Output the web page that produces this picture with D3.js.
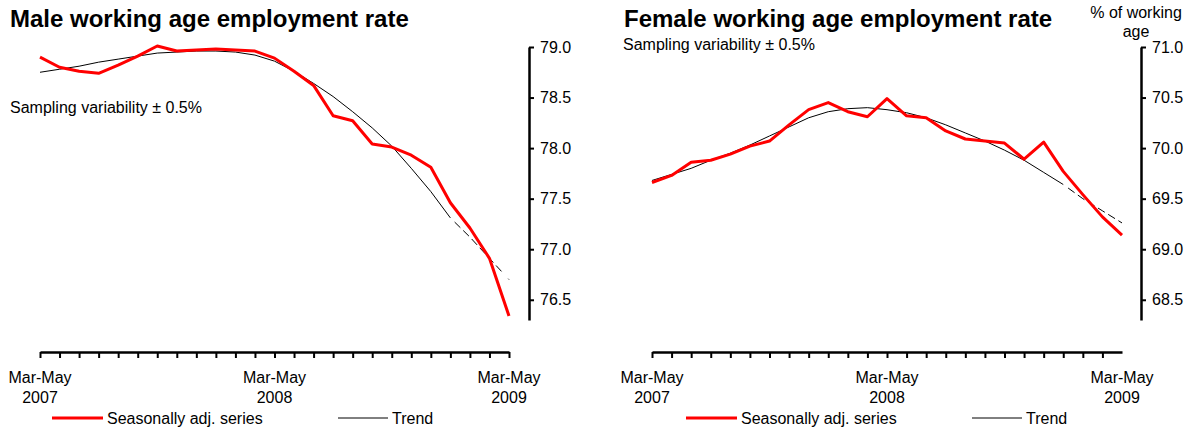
<!DOCTYPE html>
<html>
<head>
<meta charset="utf-8">
<script src="https://cdn.jsdelivr.net/npm/d3@7"></script>
<style>
body { margin: 0; background: #fff; }
svg { display: block; font-family: Arial, "Liberation Sans", sans-serif; }
</style>
</head>
<body>
<script>
// rolling three-month periods
var periods = [
  "Mar-May 2007", "Apr-Jun 2007", "May-Jul 2007", "Jun-Aug 2007", "Jul-Sep 2007",
  "Aug-Oct 2007", "Sep-Nov 2007", "Oct-Dec 2007", "Nov-Jan 2008", "Dec-Feb 2008",
  "Jan-Mar 2008", "Feb-Apr 2008", "Mar-May 2008", "Apr-Jun 2008", "May-Jul 2008",
  "Jun-Aug 2008", "Jul-Sep 2008", "Aug-Oct 2008", "Sep-Nov 2008", "Oct-Dec 2008",
  "Nov-Jan 2009", "Dec-Feb 2009", "Jan-Mar 2009", "Feb-Apr 2009", "Mar-May 2009"
];

var maleSA = [78.90, 78.80, 78.76, 78.74, 78.82, 78.91, 79.01, 78.96, 78.97, 78.98,
  78.97, 78.96, 78.89, 78.76, 78.62, 78.32, 78.27, 78.04, 78.01, 77.93,
  77.81, 77.46, 77.21, 76.91, 76.34];
var maleTrend = [78.75, 78.78, 78.81, 78.85, 78.88, 78.91, 78.94, 78.95, 78.96, 78.96,
  78.95, 78.92, 78.86, 78.76, 78.64, 78.51, 78.36, 78.20, 78.02, 77.80,
  77.57, 77.31, 77.12, 76.91, 76.70];

var femaleSA = [69.66, 69.73, 69.86, 69.88, 69.94, 70.02, 70.07, 70.23, 70.38, 70.45,
  70.36, 70.31, 70.49, 70.32, 70.30, 70.17, 70.09, 70.07, 70.05, 69.89,
  70.06, 69.77, 69.54, 69.32, 69.14];
var femaleTrend = [69.68, 69.74, 69.80, 69.88, 69.95, 70.03, 70.12, 70.21, 70.30, 70.36,
  70.39, 70.40, 70.38, 70.35, 70.30, 70.23, 70.15, 70.07, 69.98, 69.88,
  69.76, 69.64, 69.50, 69.38, 69.26];

var maleTicks = [76.5, 77.0, 77.5, 78.0, 78.5, 79.0];
var femaleTicks = [68.5, 69.0, 69.5, 70.0, 70.5, 71.0];
var labelPeriods = ["Mar-May 2007", "Mar-May 2008", "Mar-May 2009"];

var svg = d3.select("body").append("svg")
  .attr("width", 1189)
  .attr("height", 427);

var projStart = 21; // trend is dashed from here on

function drawPanel(p) {
  var g = svg.append("g");

  var x = d3.scalePoint().domain(periods).range(p.xRange);
  var y = d3.scaleLinear().domain(p.yDomain).range([320, 47]);

  // y axis on the right
  var yAxis = g.append("g")
    .attr("transform", "translate(" + p.yAxisX + ",0)")
    .call(d3.axisRight(y).tickValues(p.ticks).tickFormat(d3.format(".1f"))
      .tickSizeInner(5).tickSizeOuter(0).tickPadding(6));
  yAxis.select(".domain").attr("stroke-width", 2.5);
  yAxis.selectAll(".tick line").attr("stroke-width", 2);
  yAxis.selectAll(".tick text").attr("font-size", 16).attr("font-family", null).attr("fill", "#000");

  // x axis
  var xAxis = g.append("g")
    .attr("transform", "translate(0,352)")
    .call(d3.axisBottom(x).tickValues(p.xTicks).tickFormat("")
      .tickSizeInner(6).tickSizeOuter(0));
  xAxis.select(".domain").attr("stroke-width", 2.5);
  xAxis.selectAll(".tick line").attr("stroke-width", 2);

  labelPeriods.forEach(function(d) {
    var parts = d.split(" ");
    g.append("text").attr("x", x(d)).attr("y", 383)
      .attr("text-anchor", "middle").attr("font-size", 16).text(parts[0]);
    g.append("text").attr("x", x(d)).attr("y", 403)
      .attr("text-anchor", "middle").attr("font-size", 16).text(parts[1]);
  });

  var line = d3.line()
    .x(function(d) { return x(d.p); })
    .y(function(d) { return y(d.v); });

  var trend = p.trend.map(function(v, i) { return {p: periods[i], v: v}; });
  var sa = p.sa.map(function(v, i) { return {p: periods[i], v: v}; });

  g.append("path").datum(trend.slice(0, projStart + 1))
    .attr("d", line).attr("fill", "none").attr("stroke", "#000").attr("stroke-width", 1);
  g.append("path").datum(trend.slice(projStart))
    .attr("d", line).attr("fill", "none").attr("stroke", "#000").attr("stroke-width", 1)
    .attr("stroke-dasharray", "0,6,8,4,8,4,8,4,8,4,8,4,8,4");

  g.append("path").datum(sa)
    .attr("d", line).attr("fill", "none").attr("stroke", "#ff0000")
    .attr("stroke-width", 3).attr("stroke-linejoin", "round");

  // titles
  g.append("text").attr("x", p.titleX).attr("y", 27)
    .attr("font-size", 24).attr("font-weight", "bold").text(p.title);
  g.append("text").attr("x", p.subX).attr("y", p.subY)
    .attr("font-size", 16).text("Sampling variability \u00b1 0.5%");

  // legend
  g.append("line").attr("x1", p.legX[0]).attr("x2", p.legX[0] + 51)
    .attr("y1", 418).attr("y2", 418).attr("stroke", "#ff0000").attr("stroke-width", 3);
  g.append("text").attr("x", p.legX[0] + 55).attr("y", 424)
    .attr("font-size", 16).text("Seasonally adj. series");
  g.append("line").attr("x1", p.legX[1]).attr("x2", p.legX[1] + 50)
    .attr("y1", 418).attr("y2", 418).attr("stroke", "#000").attr("stroke-width", 1);
  g.append("text").attr("x", p.legX[1] + 54).attr("y", 424)
    .attr("font-size", 16).text("Trend");
}

drawPanel({
  xRange: [40, 509], yDomain: [76.3, 79.0], yAxisX: 529,
  ticks: maleTicks, xTicks: periods,
  sa: maleSA, trend: maleTrend,
  title: "Male working age employment rate", titleX: 10,
  subX: 10, subY: 113,
  legX: [52, 338]
});

drawPanel({
  xRange: [652, 1122], yDomain: [68.3, 71.0], yAxisX: 1141,
  ticks: femaleTicks, xTicks: periods.slice(0, 24),
  sa: femaleSA, trend: femaleTrend,
  title: "Female working age employment rate", titleX: 624,
  subX: 623, subY: 50,
  legX: [686, 972]
});

svg.append("text").attr("x", 1136).attr("y", 18)
  .attr("text-anchor", "middle").attr("font-size", 16).text("% of working");
svg.append("text").attr("x", 1136).attr("y", 37)
  .attr("text-anchor", "middle").attr("font-size", 16).text("age");
</script>
</body>
</html>
